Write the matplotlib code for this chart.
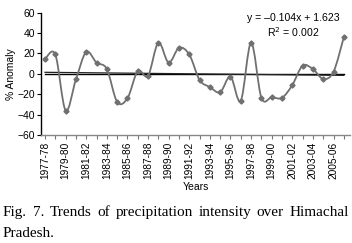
import matplotlib
matplotlib.use('Agg')
import matplotlib.pyplot as plt
import numpy as np
from matplotlib.path import Path
from matplotlib.patches import PathPatch

years = ['1977-78', '1978-79', '1979-80', '1980-81', '1981-82', '1982-83',
         '1983-84', '1984-85', '1985-86', '1986-87', '1987-88', '1988-89',
         '1989-90', '1990-91', '1991-92', '1992-93', '1993-94', '1994-95',
         '1995-96', '1996-97', '1997-98', '1998-99', '1999-00', '2000-01',
         '2001-02', '2002-03', '2003-04', '2004-05', '2005-06', '2006-07']
anomaly = [14.5, 19, -36, -5.5, 21.5, 11, 4.7, -27.5, -24, 2.7,
           -1.8, 30.5, 11, 25.5, 19, -6, -13, -18, -2.8, -26.5,
           30.5, -23.5, -23, -23.5, -11, 8, 4.7, -5, 2, 36]
slope = -0.104
intercept = 1.623
r2 = 0.002
yticks = [-60, -40, -20, 0, 20, 40, 60]

plt.rcParams['font.family'] = ['Liberation Sans', 'DejaVu Sans']

W, H = 352, 243
fig = plt.figure(figsize=(W / 100, H / 100), dpi=100)
ax = fig.add_axes([41 / W, 1 - 135 / H, 309 / W, (135 - 12.7) / H])

x = np.arange(1, len(anomaly) + 1)
y = np.array(anomaly, dtype=float)

# Excel-style smoothed line (Catmull-Rom as cubic Bezier segments)
verts = [(x[0], y[0])]
codes = [Path.MOVETO]
n = len(x)
for i in range(n - 1):
    p0 = np.array([x[max(i - 1, 0)], y[max(i - 1, 0)]])
    p1 = np.array([x[i], y[i]])
    p2 = np.array([x[i + 1], y[i + 1]])
    p3 = np.array([x[min(i + 2, n - 1)], y[min(i + 2, n - 1)]])
    c1 = p1 + (p2 - p0) / 6.0
    c2 = p2 - (p3 - p1) / 6.0
    verts += [tuple(c1), tuple(c2), tuple(p2)]
    codes += [Path.CURVE4] * 3
ax.add_patch(PathPatch(Path(verts, codes), facecolor='none',
                       edgecolor='#707070', lw=1.3, zorder=3))
ax.plot(x, y, linestyle='none', marker='D', ms=2.6, color='#707070', zorder=4)

# zero line and linear trend
ax.plot([x[0], x[-1]], [0, 0], color='black', lw=1.0, zorder=2)
ax.plot(x, slope * x + intercept, color='#222222', lw=0.9, zorder=2)

ax.set_xlim(0.61, 30.6)
ax.set_ylim(-60, 60)
ax.set_yticks(yticks)
ax.set_yticklabels([str(v).replace('-', '\u2212') for v in yticks], fontsize=7.5)
ax.set_xticks(x)
ax.set_xticklabels([lab if i % 2 == 0 else '' for i, lab in enumerate(years)],
                   rotation=90, fontsize=7.3)
for s in ['top', 'right']:
    ax.spines[s].set_visible(False)
ax.spines['left'].set_color('black')
ax.spines['left'].set_linewidth(1.0)
ax.spines['bottom'].set_color('#888888')
ax.spines['bottom'].set_linewidth(1.0)
ax.tick_params(axis='y', length=3, width=0.8, color='black', pad=1.5)
ax.tick_params(axis='x', length=3, width=0.8, color='#777777', pad=2)
ax.set_ylabel('% Anomaly', fontsize=7.5, labelpad=1)
ax.set_xlabel('Years', fontsize=7.5, labelpad=2)

fig.text(293 / W, 1 - 18 / H, 'y = \u20130.104x + 1.623', ha='center', va='center', fontsize=7.6)
fig.text(293 / W, 1 - 32 / H, 'R$^2$ = %.3f' % r2, ha='center', va='center', fontsize=7.6)

# justified serif caption
fig.canvas.draw()
rend = fig.canvas.get_renderer()
line1 = 'Fig. 7. Trends of precipitation intensity over Himachal'.split()
x0, x1 = 3, 349
fs = 11
objs = [fig.text(0, 0, w, family='Liberation Serif', fontsize=fs) for w in line1]
widths = [o.get_window_extent(rend).width for o in objs]
gap = (x1 - x0 - sum(widths)) / (len(line1) - 1)
pos = x0
for o, w in zip(objs, widths):
    o.set_position((pos / W, 1 - 212 / H))
    o.set_va('center')
    pos += w + gap
fig.text(x0 / W, 1 - 233 / H, 'Pradesh.', family='Liberation Serif', fontsize=fs, va='center')

fig.savefig('out.png', dpi=100)
